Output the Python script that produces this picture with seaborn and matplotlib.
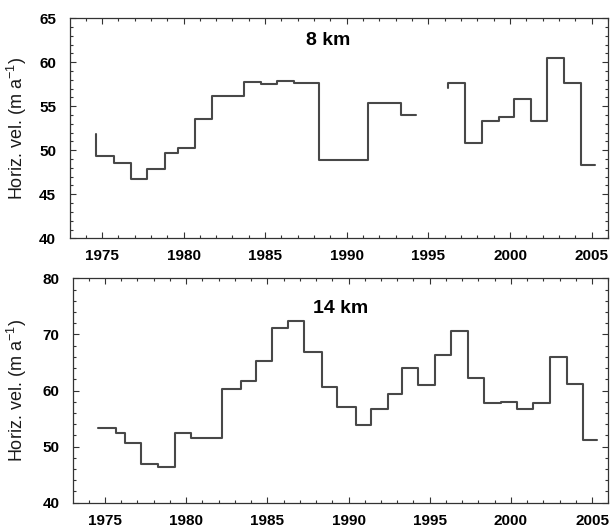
import numpy as np
import pandas as pd
import matplotlib
matplotlib.use("Agg")
import matplotlib.pyplot as plt
import seaborn as sns
from matplotlib.ticker import MultipleLocator

# 8 km site: two runs of annual steps (gap mid-1990s)
km8_edges_a = [1974.63, 1975.75, 1976.77, 1977.79, 1978.86, 1979.68, 1980.70, 1981.76,
               1983.73, 1984.75, 1985.73, 1986.74, 1988.28, 1991.32, 1993.30, 1994.21]
km8_vals_a = [49.3, 48.6, 46.7, 47.9, 49.7, 50.3, 53.6, 56.2, 57.8, 57.5, 57.85, 57.6,
              48.85, 55.4, 54.0]
km8_start_a = 51.8
km8_edges_b = [1996.20, 1997.26, 1998.30, 1999.32, 2000.27, 2001.29, 2002.25, 2003.33,
               2004.35, 2005.22]
km8_vals_b = [57.6, 50.8, 53.3, 53.8, 55.85, 53.3, 60.5, 57.6, 48.3]
km8_start_b = 57.05

# 14 km site
km14_edges = [1974.54, 1975.68, 1976.24, 1977.23, 1978.25, 1979.29, 1980.32, 1982.21,
              1983.39, 1984.28, 1985.27, 1986.29, 1987.26, 1988.36, 1989.32, 1990.46,
              1991.39, 1992.42, 1993.30, 1994.31, 1995.35, 1996.34, 1997.33, 1998.35,
              1999.38, 2000.39, 2001.38, 2002.41, 2003.44, 2004.43, 2005.30]
km14_vals = [53.25, 52.5, 50.6, 46.9, 46.4, 52.5, 51.5, 60.2, 61.7, 65.3, 71.1, 72.4,
             66.8, 60.6, 57.0, 53.85, 56.65, 59.4, 64.1, 61.0, 66.3, 70.7, 62.2, 57.7,
             58.0, 56.8, 57.8, 65.9, 61.2, 51.2]

year_ticks = [1975, 1980, 1985, 1990, 1995, 2000, 2005]


def step_frame(edges, vals, seg, start=None):
    """Points for a steps-post line: one point per edge."""
    x = list(edges)
    y = list(vals) + [vals[-1]]
    if start is not None:
        x = [edges[0]] + x
        y = [start] + y
    return pd.DataFrame({"year": x, "vel": y, "seg": seg})


sns.set_style("ticks")
plt.rcParams["font.family"] = ["Liberation Sans", "DejaVu Sans"]
plt.rcParams["mathtext.default"] = "regular"
plt.rcParams["text.color"] = "black"
plt.rcParams["axes.labelcolor"] = "#1a1a1a"
plt.rcParams["xtick.color"] = "black"
plt.rcParams["ytick.color"] = "black"

fig = plt.figure(figsize=(6.1, 5.29), dpi=100)
ax1 = fig.add_axes([0.1148, 0.5495, 0.882, 0.416])
ax2 = fig.add_axes([0.1202, 0.0497, 0.877, 0.424])

df8 = pd.concat([step_frame(km8_edges_a, km8_vals_a, 0, km8_start_a),
                 step_frame(km8_edges_b, km8_vals_b, 1, km8_start_b)])
df14 = step_frame(km14_edges, km14_vals, 0)

line_col = "#484848"
for ax, df in [(ax1, df8), (ax2, df14)]:
    sns.lineplot(data=df, x="year", y="vel", units="seg", estimator=None, sort=False,
                 drawstyle="steps-post", color=line_col, linewidth=1.5,
                 legend=False, ax=ax)

setup = [(ax1, (40, 65), 5, 1, "8 km", (0.48, 0.90), -0.076),
         (ax2, (40, 80), 10, 2, "14 km", (0.50, 0.865), -0.083)]
for ax, ylim, ymaj, ymin, title, tpos, lx in setup:
    ax.set_xlim(1973.05, 2006.0)
    ax.set_ylim(*ylim)
    ax.set_xticks(year_ticks)
    ax.xaxis.set_minor_locator(MultipleLocator(1))
    ax.yaxis.set_major_locator(MultipleLocator(ymaj))
    ax.yaxis.set_minor_locator(MultipleLocator(ymin))
    ax.tick_params(which="both", direction="in", top=True, right=True,
                   color="#333333", width=0.8)
    ax.tick_params(which="major", length=4)
    ax.tick_params(which="minor", length=2.5)
    ax.tick_params(axis="x", pad=8)
    ax.tick_params(axis="y", pad=10)
    for lab in ax.get_xticklabels() + ax.get_yticklabels():
        lab.set_fontweight("bold")
        lab.set_fontsize(11)
    for sp in ax.spines.values():
        sp.set_color("#333333")
        sp.set_linewidth(0.9)
    ax.set_xlabel("")
    ax.set_ylabel("Horiz. vel. (m a$^{-1}$)", fontsize=13)
    ax.yaxis.set_label_coords(lx, 0.5)
    ax.text(tpos[0], tpos[1], title, transform=ax.transAxes, ha="center", va="center",
            fontsize=14, fontweight="bold")

fig.savefig("out.png", dpi=100)
